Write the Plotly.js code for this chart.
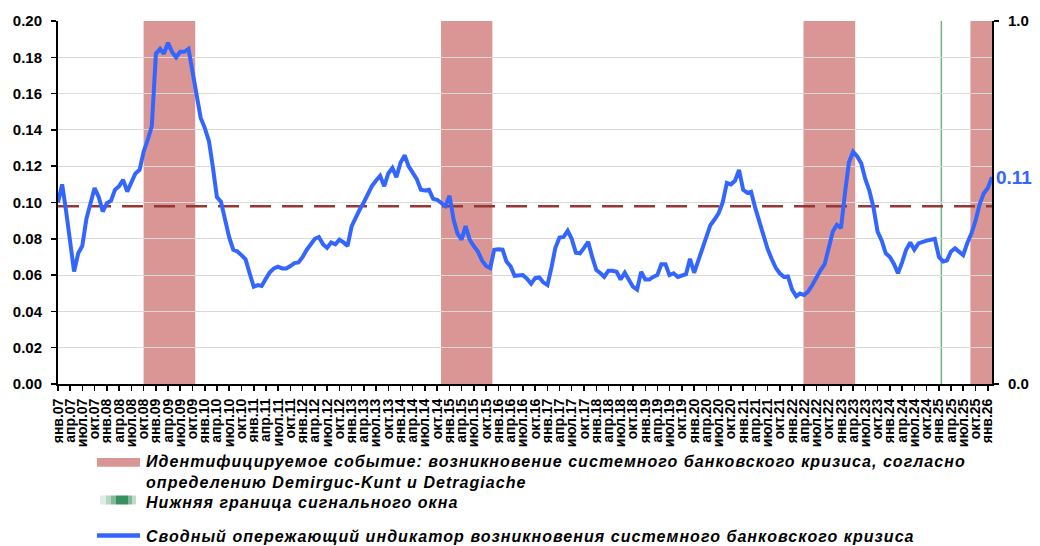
<!DOCTYPE html>
<html>
<head>
<meta charset="utf-8">
<script src="https://cdn.plot.ly/plotly-3.0.1.min.js"></script>
<style>
html,body{margin:0;padding:0;background:#fff;}
#chart{width:1040px;height:546px;}
</style>
</head>
<body>
<div id="chart"></div>
<script>
// ---------- DATA ----------
const startYear = 2007;               // first month of the series: January 2007
const indicator = [
  0.100,0.110,0.096,0.079,0.062,0.072,0.076,0.091,0.099,0.108,0.103,0.095,   // 2007
  0.0996,0.101,0.107,0.109,0.1125,0.106,0.111,0.116,0.118,0.128,0.1346,0.142, // 2008
  0.182,0.1846,0.182,0.188,0.183,0.180,0.183,0.183,0.1846,0.171,0.160,0.1466, // 2009
  0.141,0.1337,0.120,0.103,0.1005,0.0904,0.081,0.074,0.073,0.071,0.0687,0.061,// 2010
  0.0536,0.0545,0.054,0.058,0.0615,0.0637,0.0647,0.0637,0.0637,0.065,0.0666,0.067, // 2011
  0.070,0.074,0.077,0.080,0.081,0.077,0.075,0.078,0.077,0.0795,0.078,0.076,   // 2012
  0.087,0.092,0.096,0.100,0.105,0.109,0.112,0.1147,0.109,0.116,0.119,0.114,   // 2013
  0.122,0.126,0.120,0.116,0.113,0.107,0.1066,0.107,0.102,0.1015,0.0996,0.098, // 2014
  0.1037,0.0905,0.083,0.0795,0.087,0.0795,0.076,0.073,0.068,0.065,0.0639,0.074, // 2015
  0.0743,0.074,0.0675,0.0648,0.0596,0.060,0.060,0.058,0.0552,0.0583,0.0587,0.056, // 2016
  0.0545,0.0646,0.075,0.0807,0.081,0.0844,0.080,0.0723,0.072,0.075,0.0783,0.070, // 2017
  0.0628,0.061,0.059,0.0624,0.0624,0.0618,0.0576,0.0613,0.057,0.0536,0.052,0.0618, // 2018
  0.0576,0.0576,0.059,0.060,0.066,0.066,0.060,0.061,0.059,0.060,0.0605,0.069, // 2019
  0.0613,0.068,0.074,0.081,0.0875,0.0906,0.094,0.100,0.1108,0.110,0.112,0.118, // 2020
  0.107,0.1053,0.1059,0.097,0.089,0.082,0.0747,0.069,0.064,0.061,0.059,0.0593, // 2021
  0.052,0.0483,0.0498,0.049,0.051,0.0545,0.059,0.0626,0.066,0.075,0.084,0.0877, // 2022
  0.086,0.106,0.122,0.128,0.1255,0.1216,0.113,0.1065,0.097,0.084,0.079,0.072, // 2023
  0.070,0.066,0.061,0.067,0.074,0.078,0.074,0.0775,0.0785,0.079,0.0795,0.080, // 2024
  0.070,0.0675,0.068,0.073,0.0747,0.073,0.071,0.0777,0.083,0.090,0.099,0.105, // 2025
  0.108,0.114                                                                 // 2026
];
const threshold = 0.098;                         // dashed signal threshold
const crisisStart = ["2008-10-01","2014-10-30","2022-03-27","2025-08-24"];
const crisisEnd   = ["2009-10-21","2015-11-17","2023-04-17","2026-02-01"];
const signalWindowStart = "2025-01-19";          // green vertical line
const quarterNames = ["янв","апр","июл","окт"];
const firstTickYear = 2007, lastTickYear = 2026;
const rightAxisTicks = [0, 1];
const legendTexts = [
  "Идентифицируемое событие: возникновение системного банковского кризиса, согласно",
  "определению Demirguc-Kunt и Detragiache",
  "Нижняя граница сигнального окна",
  "Сводный опережающий индикатор возникновения системного банковского кризиса"
];

// ---------- BUILD ----------
const pad = n => String(n).padStart(2, "0");
const months = indicator.map((_, k) => `${startYear + Math.floor(k / 12)}-${pad(k % 12 + 1)}-01`);

const tickVals = [], tickText = [];
for (let y = firstTickYear; y <= lastTickYear; y++) {
  for (let q = 0; q < 4; q++) {
    if (y === lastTickYear && q > 0) break;
    tickVals.push(`${y}-${pad(q * 3 + 1)}-01`);
    tickText.push(`${quarterNames[q]}.${pad(y % 100)}`);
  }
}

const FONT = "Liberation Sans, Arial, sans-serif";
const BLUE = "#3366ff";
const PINK = "#d99694";
const DARKRED = "#953735";
const GREEN = "#6fb385";

// plot area in pixels: left 58, right 992, top 21, bottom 384
const L = 58, R = 48, T = 21, B = 162, W = 1040, H = 546;
const pw = W - L - R, ph = H - T - B;
const px = x => (x - L) / pw;
const py = y => (H - B - y) / ph;

const shapes = [];
crisisStart.forEach((s, k) => shapes.push({
  type: "rect", xref: "x", yref: "paper", x0: s, x1: crisisEnd[k], y0: 0, y1: 1,
  fillcolor: PINK, line: {width: 0}, layer: "between"
}));
shapes.push({
  type: "line", xref: "x", yref: "paper", x0: signalWindowStart, x1: signalWindowStart, y0: 0, y1: 1,
  line: {color: GREEN, width: 1.5}, layer: "between"
});
shapes.push({
  type: "line", xref: "paper", yref: "y", x0: 0, x1: 1, y0: threshold, y1: threshold,
  line: {color: DARKRED, width: 2.5, dash: "21px,11px"}, layer: "between"
});

// legend swatches (pixel positions, paper refs)
shapes.push({type: "rect", xref: "paper", yref: "paper", x0: px(97), x1: px(140), y0: py(466.7), y1: py(458),
  fillcolor: PINK, line: {width: 0}});
// green faded swatch
[[100, 106, 0.15], [106, 111, 0.35], [111, 116, 0.6], [116, 128, 0.95], [128, 132, 0.6], [132, 136, 0.3]].forEach(s => {
  shapes.push({type: "line", xref: "paper", yref: "paper", x0: px(s[0]), x1: px(s[1]), y0: py(500), y1: py(500),
    line: {color: "#2e8b57", width: 9}, opacity: s[2]});
});
shapes.push({type: "line", xref: "paper", yref: "paper", x0: px(97), x1: px(140), y0: py(535.5), y1: py(535.5),
  line: {color: BLUE, width: 4.5}});

const legendY = [461.5, 482, 502, 536];
const annotations = legendTexts.map((t, k) => ({
  xref: "paper", yref: "paper", x: px(144), y: py(legendY[k]), xanchor: "left", yanchor: "middle",
  text: t, showarrow: false,
  font: {family: FONT, size: 16, color: "#000", weight: "bold", style: "italic"}
}));
const lastVal = indicator[indicator.length - 1];
annotations.push({
  xref: "paper", yref: "y", x: 1, y: lastVal, xanchor: "left", yanchor: "middle", xshift: 2,
  text: lastVal.toFixed(2), showarrow: false,
  font: {family: FONT, size: 19, color: BLUE, weight: "bold"}
});

const traces = [
  {x: months, y: indicator, type: "scatter", mode: "lines",
   line: {color: BLUE, width: 4}, hoverinfo: "skip", showlegend: false},
  {x: [], y: [], yaxis: "y2", type: "scatter", mode: "lines", showlegend: false}
];

const tickFont = {family: FONT, size: 15, color: "#000", weight: "bold"};
const layout = {
  width: W, height: H,
  margin: {l: L, r: R, t: T, b: B, pad: 0},
  paper_bgcolor: "#fff", plot_bgcolor: "#fff",
  showlegend: false,
  xaxis: {
    type: "date", range: [months[0], months[months.length - 1]],
    tickmode: "array", tickvals: tickVals, ticktext: tickText, tickangle: -90,
    tickfont: {family: FONT, size: 14, color: "#000", weight: "bold"},
    ticks: "outside", ticklen: 5, tickwidth: 1.5, tickcolor: "#000",
    showline: true, linecolor: "#000", linewidth: 2, showgrid: false, zeroline: false,
    ticklabelstandoff: 2
  },
  yaxis: {
    range: [0, 0.2], dtick: 0.02, tickformat: ".2f", tickfont: tickFont,
    ticks: "outside", ticklen: 5, tickwidth: 1.5, tickcolor: "#000",
    showline: true, linecolor: "#000", linewidth: 2,
    showgrid: true, gridcolor: "#d9d9d9", gridwidth: 1, zeroline: false,
    ticklabelstandoff: 6
  },
  yaxis2: {
    overlaying: "y", side: "right", range: [0, 1],
    tickmode: "array", tickvals: rightAxisTicks, tickformat: ".1f", tickfont: tickFont,
    ticks: "outside", ticklen: 5, tickwidth: 1.5, tickcolor: "#000",
    showline: true, linecolor: "#000", linewidth: 2, showgrid: false, zeroline: false,
    ticklabelstandoff: 6
  },
  shapes: shapes,
  annotations: annotations
};

Plotly.newPlot("chart", traces, layout, {staticPlot: true, displayModeBar: false}).then(gd => {
  // widen the legend lettering like the original, keeping the left edge in place
  gd.querySelectorAll(".annotation-text").forEach(el => {
    if (!legendTexts.includes(el.textContent)) return;
    const before = el.getBBox().x;
    el.style.letterSpacing = "1.05px";
    const after = el.getBBox().x;
    const prev = el.getAttribute("transform") || "";
    el.setAttribute("transform", (prev + " translate(" + (before - after) + ",0)").trim());
  });
});
</script>
</body>
</html>
